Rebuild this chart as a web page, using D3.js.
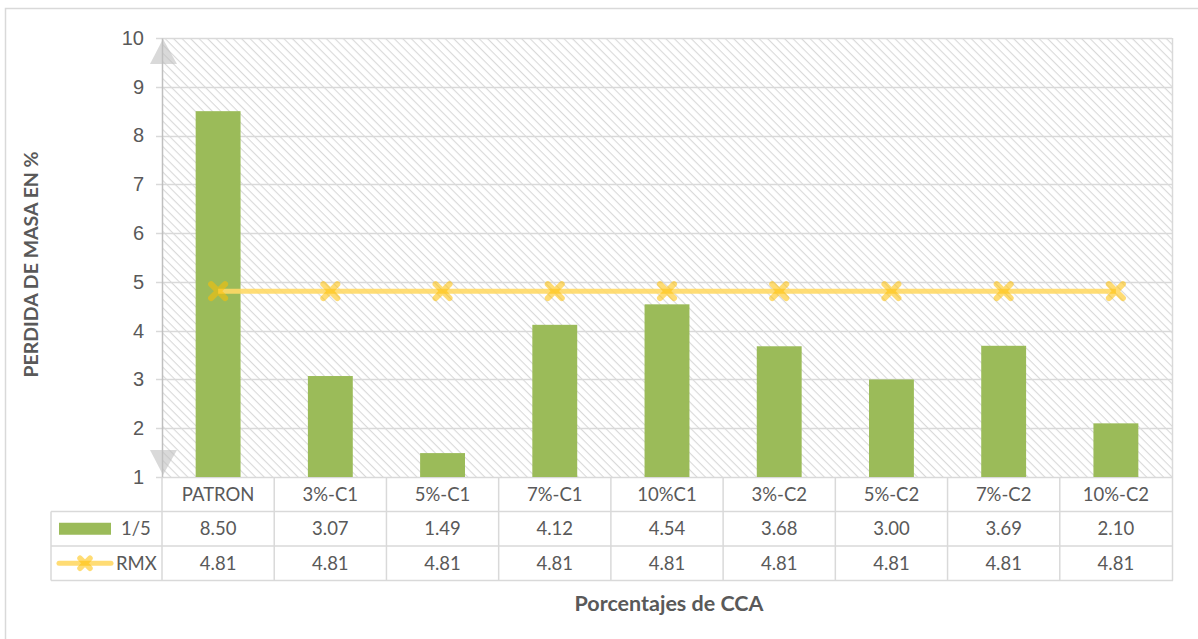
<!DOCTYPE html>
<html>
<head>
<meta charset="utf-8">
<script src="https://cdn.jsdelivr.net/npm/d3@7"></script>
<style>
  html, body { margin: 0; padding: 0; background: #fff; }
  svg { display: block; font-family: Lato, "Open Sans", "Liberation Sans", sans-serif; }
</style>
</head>
<body>
<svg id="chart" width="1198" height="639"></svg>
<script>
// Categories and series
const categories = ["PATRON", "3%-C1", "5%-C1", "7%-C1", "10%C1", "3%-C2", "5%-C2", "7%-C2", "10%-C2"];
const serie15 = [8.50, 3.07, 1.49, 4.12, 4.54, 3.68, 3.00, 3.69, 2.10];
const serieRMX = [4.81, 4.81, 4.81, 4.81, 4.81, 4.81, 4.81, 4.81, 4.81];
const yTicks = [1, 2, 3, 4, 5, 6, 7, 8, 9, 10];

const svg = d3.select("#chart");
const textColor = "#595959";
const gridColor = "#d9d9d9";
const barColor = "#9bbb59";
const lineColor = "#ffd966";
const markColor = "#ffc000";

const plot = { left: 162, right: 1172, top: 38, bottom: 477 };
const tableLeft = 51;
const rowH = 34.5;

// Outer chart frame
svg.append("rect").attr("x", 5.5).attr("y", 8.5).attr("width", 1210).attr("height", 650)
  .attr("fill", "#fff").attr("stroke", "#d9d9d9").attr("stroke-width", 1.5);

const x = d3.scaleBand().domain(categories).range([plot.left, plot.right]).paddingInner(0).paddingOuter(0);
const y = d3.scaleLinear().domain([1, 10]).range([plot.bottom, plot.top]);

// Diagonal hatch fill for the plot area
const defs = svg.append("defs");
const pat = defs.append("pattern").attr("id", "hatch").attr("patternUnits", "userSpaceOnUse")
  .attr("width", 6).attr("height", 6).attr("patternTransform", "rotate(45)");
pat.append("rect").attr("width", 6).attr("height", 6).attr("fill", "#fff");
pat.append("line").attr("x1", 0).attr("y1", 0).attr("x2", 6).attr("y2", 0)
  .attr("stroke", "#d9d9d9").attr("stroke-width", 2.2);

svg.append("rect").attr("x", plot.left).attr("y", plot.top)
  .attr("width", plot.right - plot.left).attr("height", plot.bottom - plot.top)
  .attr("fill", "url(#hatch)");

// Horizontal gridlines
svg.append("g").selectAll("line").data(yTicks).join("line")
  .attr("x1", plot.left - 6).attr("x2", plot.right)
  .attr("y1", d => Math.round(y(d)) + 0.5).attr("y2", d => Math.round(y(d)) + 0.5)
  .attr("stroke", gridColor).attr("stroke-width", 1.5);

// Right edge of plot
svg.append("line").attr("x1", plot.right + 0.5).attr("x2", plot.right + 0.5)
  .attr("y1", plot.top).attr("y2", plot.bottom).attr("stroke", gridColor).attr("stroke-width", 1.5);

// Y axis
const yAxis = d3.axisLeft(y).tickValues(yTicks).tickSize(0).tickPadding(18).tickFormat(d3.format("d"));
const gy = svg.append("g").attr("transform", `translate(${plot.left},0)`).call(yAxis);
gy.select(".domain").attr("stroke", "#bfbfbf").attr("stroke-width", 1.5);
gy.selectAll("text").attr("fill", textColor).attr("font-size", 20);

// Axis arrow heads
svg.append("path")
  .attr("d", `M${plot.left + 1},${plot.top + 1} L${plot.left + 15},${plot.top + 26} L${plot.left - 12},${plot.top + 26} Z`)
  .attr("fill", "#bfbfbf").attr("opacity", 0.6);
svg.append("path")
  .attr("d", `M${plot.left + 1},${plot.bottom - 2} L${plot.left + 15},${plot.bottom - 27} L${plot.left - 12},${plot.bottom - 27} Z`)
  .attr("fill", "#bfbfbf").attr("opacity", 0.6);

// Bars
const barW = x.bandwidth() * 0.4;
svg.append("g").selectAll("rect").data(categories).join("rect")
  .attr("x", d => x(d) + (x.bandwidth() - barW) / 2)
  .attr("y", (d, i) => y(serie15[i]))
  .attr("width", barW)
  .attr("height", (d, i) => y(1) - y(serie15[i]))
  .attr("fill", barColor);

// RMX line
const line = d3.line().x((d, i) => x(categories[i]) + x.bandwidth() / 2).y(d => y(d));
svg.append("path").datum(serieRMX).attr("d", line)
  .attr("fill", "none").attr("stroke", lineColor).attr("stroke-width", 5).attr("opacity", 0.9);

function xMark(g, cx, cy, s, w) {
  g.append("path")
    .attr("d", `M${cx - s},${cy - s} L${cx + s},${cy + s} M${cx - s},${cy + s} L${cx + s},${cy - s}`)
    .attr("stroke", markColor).attr("stroke-width", w).attr("stroke-linecap", "round")
    .attr("opacity", 0.55).attr("fill", "none");
}
const gm = svg.append("g");
serieRMX.forEach((v, i) => xMark(gm, x(categories[i]) + x.bandwidth() / 2, y(v), 7, 6));

// Data table
const tTop = plot.bottom;
const tBottom = tTop + rowH * 3;
const tg = svg.append("g");
const tableStroke = "#d9d9d9";
// horizontal rules
[tTop + rowH, tTop + rowH * 2, tBottom].forEach(yy => {
  tg.append("line").attr("x1", tableLeft).attr("x2", plot.right + 1)
    .attr("y1", yy).attr("y2", yy).attr("stroke", tableStroke).attr("stroke-width", 1.5);
});
// vertical rules
tg.append("line").attr("x1", tableLeft).attr("x2", tableLeft)
  .attr("y1", tTop + rowH).attr("y2", tBottom).attr("stroke", tableStroke).attr("stroke-width", 1.5);
categories.forEach(c => {
  tg.append("line").attr("x1", x(c)).attr("x2", x(c))
    .attr("y1", tTop).attr("y2", tBottom).attr("stroke", tableStroke).attr("stroke-width", 1.5);
});
tg.append("line").attr("x1", plot.right + 0.5).attr("x2", plot.right + 0.5)
  .attr("y1", tTop).attr("y2", tBottom).attr("stroke", tableStroke).attr("stroke-width", 1.5);

const cellText = (txt, cx, row) => tg.append("text")
  .attr("x", cx).attr("y", tTop + rowH * row + rowH / 2)
  .attr("dy", "0.35em").attr("text-anchor", "middle")
  .attr("fill", textColor).attr("font-size", 18.5).text(txt);

categories.forEach((c, i) => {
  const cx = x(c) + x.bandwidth() / 2;
  cellText(c, cx, 0);
  cellText(serie15[i].toFixed(2), cx, 1);
  cellText(serieRMX[i].toFixed(2), cx, 2);
});

// Legend keys inside the table
const r1 = tTop + rowH * 1.5;
const r2 = tTop + rowH * 2.5;
tg.append("rect").attr("x", 59).attr("y", r1 - 6).attr("width", 52).attr("height", 12).attr("fill", barColor);
tg.append("text").attr("x", 121).attr("y", r1).attr("dy", "0.35em").attr("fill", textColor)
  .attr("font-size", 18.5).text("1/5");
tg.append("line").attr("x1", 59).attr("x2", 111).attr("y1", r2).attr("y2", r2)
  .attr("stroke", lineColor).attr("stroke-width", 5).attr("stroke-linecap", "round").attr("opacity", 0.9);
xMark(tg, 85, r2, 5, 5.5);
tg.append("text").attr("x", 116).attr("y", r2).attr("dy", "0.35em").attr("fill", textColor)
  .attr("font-size", 18.5).text("RMX");

// Axis titles
svg.append("text").attr("transform", `translate(31,${(plot.top + plot.bottom) / 2 + 7}) rotate(-90)`)
  .attr("text-anchor", "middle").attr("dy", "0.35em").attr("fill", textColor)
  .attr("font-size", 19.5).attr("font-weight", "bold").text("PERDIDA DE MASA EN %");
svg.append("text").attr("x", 669).attr("y", 603)
  .attr("text-anchor", "middle").attr("dy", "0.35em").attr("fill", textColor)
  .attr("font-size", 21.5).attr("font-weight", "bold").text("Porcentajes de CCA");
</script>
</body>
</html>
